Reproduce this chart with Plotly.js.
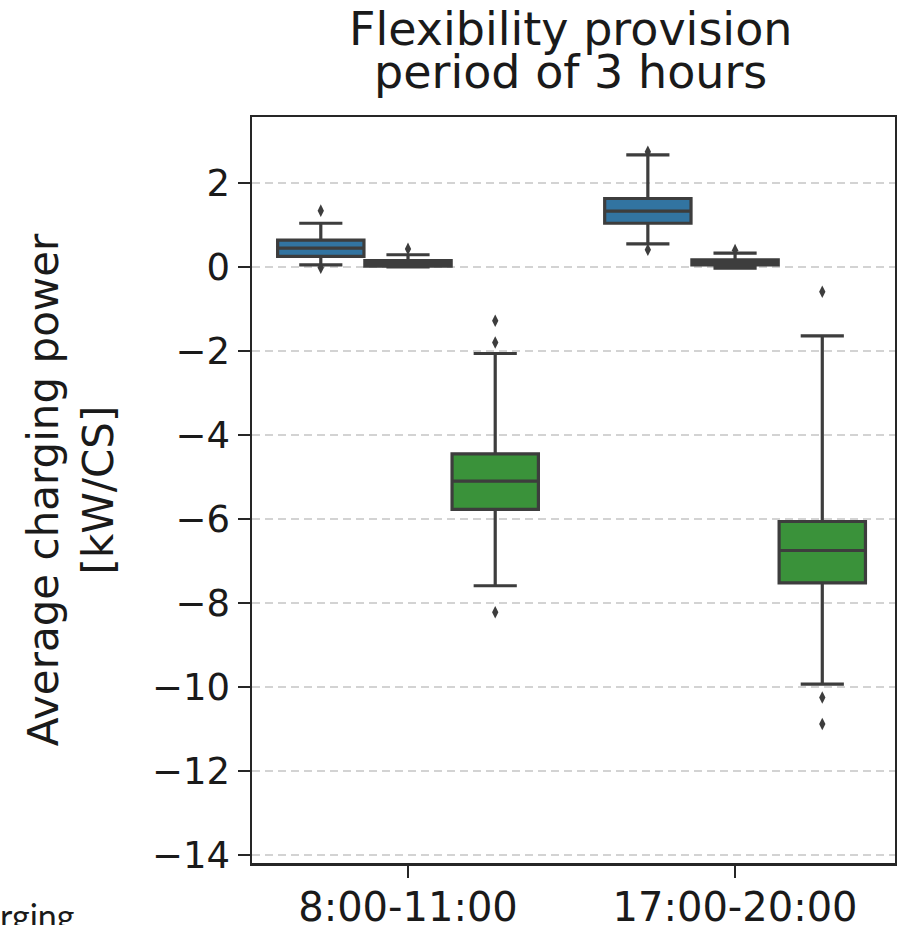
<!DOCTYPE html>
<html>
<head>
<meta charset="utf-8">
<script src="https://cdn.plot.ly/plotly-3.0.1.min.js"></script>
<style>html,body{margin:0;padding:0;background:#fff;}#chart{width:897px;height:925px;}</style>
</head>
<body>
<div id="chart"></div>
<script>
// ---- data ----
const categories = ['8:00-11:00', '17:00-20:00'];
const seriesNames = ['Series 1', 'Series 2', 'Series 3'];
const seriesColors = ['#3274a1', '#e1812c', '#3a923a'];

// Series 1 (blue)
const s1Lower  = [0.05, 0.55];
const s1Q1     = [0.25, 1.04];
const s1Median = [0.45, 1.33];
const s1Q3     = [0.64, 1.63];
const s1Upper  = [1.04, 2.67];
const s1Outliers = [[1.34, -0.02], [2.74, 0.41]];

// Series 2 (orange)
const s2Lower  = [0.00, -0.03];
const s2Q1     = [0.02, 0.05];
const s2Median = [0.08, 0.10];
const s2Q3     = [0.15, 0.17];
const s2Upper  = [0.29, 0.33];
const s2Outliers = [[0.43], [0.40]];

// Series 3 (green)
const s3Lower  = [-7.59, -9.93];
const s3Q1     = [-5.77, -7.52];
const s3Median = [-5.10, -6.75];
const s3Q3     = [-4.45, -6.06];
const s3Upper  = [-2.06, -1.64];
const s3Outliers = [[-1.28, -1.80, -8.22], [-0.59, -10.25, -10.88]];

const yTicks = [2, 0, -2, -4, -6, -8, -10, -12, -14];

// ---- build traces ----
const series = [
  {lower: s1Lower, q1: s1Q1, median: s1Median, q3: s1Q3, upper: s1Upper, out: s1Outliers},
  {lower: s2Lower, q1: s2Q1, median: s2Median, q3: s2Q3, upper: s2Upper, out: s2Outliers},
  {lower: s3Lower, q1: s3Q1, median: s3Median, q3: s3Q3, upper: s3Upper, out: s3Outliers}
];
const nHue = series.length;
const groupWidth = 0.8;
const slot = groupWidth / nHue;
const lineCol = '#3d3d3d';
const traces = [];
series.forEach((s, h) => {
  const off = (h - (nHue - 1) / 2) * slot;
  const xs = categories.map((c, i) => i + off);
  traces.push({
    type: 'box', name: seriesNames[h], x: xs,
    lowerfence: s.lower, q1: s.q1, median: s.median, q3: s.q3, upperfence: s.upper,
    width: slot * 0.99, whiskerwidth: 0.5, boxpoints: false,
    fillcolor: seriesColors[h],
    line: {color: lineCol, width: 3.2},
    showlegend: false, hoverinfo: 'skip'
  });
  const ox = [], oy = [];
  s.out.forEach((arr, i) => arr.forEach(v => { ox.push(xs[i]); oy.push(v); }));
  traces.push({
    type: 'scatter', mode: 'markers', x: ox, y: oy, name: seriesNames[h] + ' outliers',
    marker: {symbol: 'diamond-tall', size: 9, color: lineCol, line: {width: 0}},
    showlegend: false, hoverinfo: 'skip', cliponaxis: false
  });
});

const font = 'DejaVu Sans, sans-serif';
const layout = {
  width: 897, height: 925,
  margin: {l: 252, r: 2, t: 117, b: 62},
  paper_bgcolor: '#ffffff', plot_bgcolor: '#ffffff',
  showlegend: false,
  font: {family: font, color: '#222222'},
  xaxis: {
    type: 'linear', range: [-0.477, 1.489],
    tickvals: categories.map((c, i) => i), ticktext: categories,
    showgrid: false, zeroline: false,
    showline: true, mirror: true, linecolor: '#262626', linewidth: 2.5,
    ticks: 'outside', ticklen: 12, tickwidth: 2.5, tickcolor: '#262626',
    ticklabelstandoff: -5,
    tickfont: {family: font, size: 40, color: '#1a1a1a'}
  },
  yaxis: {
    range: [-14.19, 3.57], tickvals: yTicks,
    showgrid: true, gridcolor: '#d3d3d3', gridwidth: 2, griddash: '8px,5px',
    zeroline: false,
    showline: true, mirror: true, linecolor: '#262626', linewidth: 2.5,
    ticks: 'outside', ticklen: 12, tickwidth: 2.5, tickcolor: '#262626',
    tickfont: {family: font, size: 37, color: '#1a1a1a'},
    title: {text: 'Average charging power<br>[kW/CS]', font: {family: font, size: 42, color: '#1a1a1a'}, standoff: 26}
  },
  annotations: [
    {text: 'Flexibility provision', xref: 'paper', yref: 'paper', x: 0.495, y: 1.118,
     xanchor: 'center', yanchor: 'middle', showarrow: false, font: {family: font, size: 46, color: '#1a1a1a'}},
    {text: 'period of 3 hours', xref: 'paper', yref: 'paper', x: 0.495, y: 1.060,
     xanchor: 'center', yanchor: 'middle', showarrow: false, font: {family: font, size: 46, color: '#1a1a1a'}},
    {text: 'rging', xref: 'paper', yref: 'paper', x: -0.395, y: -0.071,
     xanchor: 'left', yanchor: 'middle', showarrow: false, font: {family: 'Lato, sans-serif', size: 34, color: '#1a1a1a'}}
  ]
};

Plotly.newPlot('chart', traces, layout, {staticPlot: true, displayModeBar: false});
</script>
</body>
</html>
